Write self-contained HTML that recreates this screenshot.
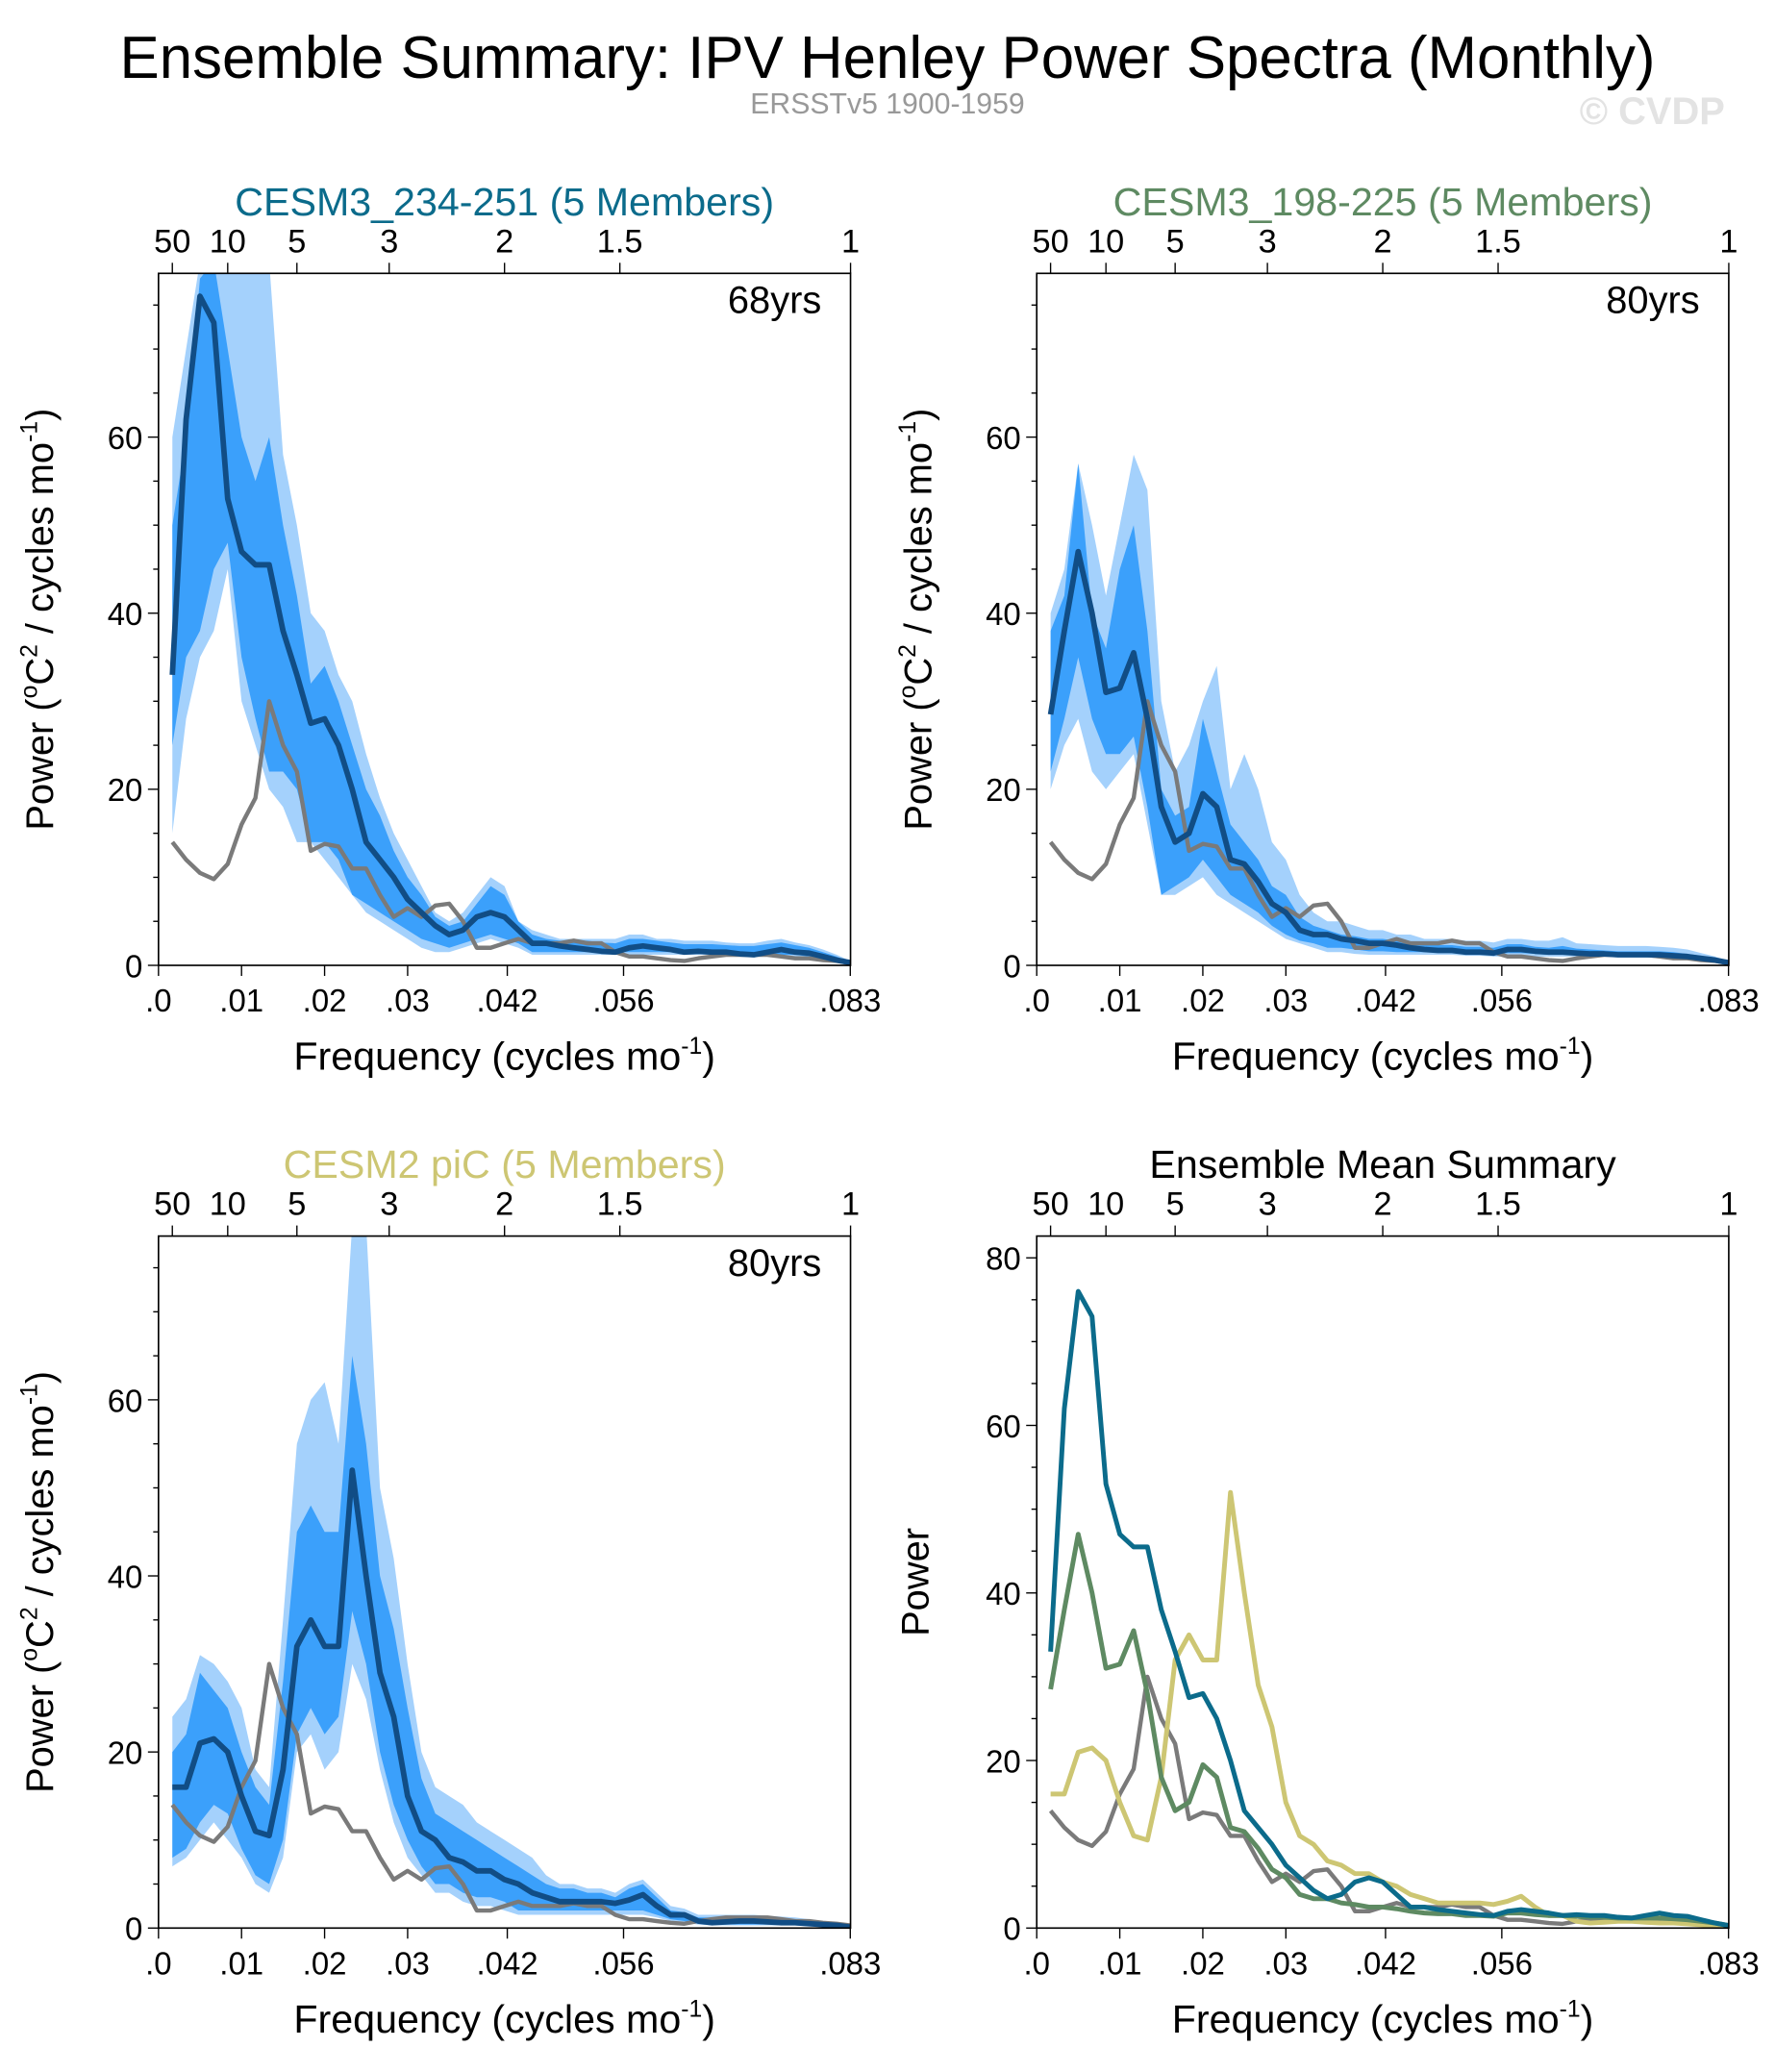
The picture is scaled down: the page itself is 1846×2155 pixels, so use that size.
<!DOCTYPE html>
<html><head><meta charset="utf-8">
<style>
html,body{margin:0;padding:0;background:#fff;}
svg{display:block;font-family:"Liberation Sans",Arial,sans-serif;}
</style></head>
<body>
<svg id="chart" width="1846" height="2155" viewBox="0 0 1344 1569" xmlns="http://www.w3.org/2000/svg">
<text x="672" y="59" font-size="45" text-anchor="middle" fill="#000">Ensemble Summary: IPV Henley Power Spectra (Monthly)</text>
<text x="672" y="86" font-size="22" text-anchor="middle" fill="#999">ERSSTv5 1900-1959</text>
<text x="1306" y="94" font-size="29" font-weight="bold" text-anchor="end" fill="#e3e3e3">© CVDP</text>
</svg>
<script>
const freqs=[0.00167,0.00333,0.005,0.00667,0.00833,0.01,0.01167,0.01333,0.015,0.01667,0.01833,0.02,0.02167,0.02333,0.025,0.02667,0.02833,0.03,0.03167,0.03333,0.035,0.03667,0.03833,0.04,0.04167,0.04333,0.045,0.04667,0.04833,0.05,0.05167,0.05333,0.055,0.05667,0.05833,0.06,0.06167,0.06333,0.065,0.06667,0.06833,0.07,0.07167,0.07333,0.075,0.07667,0.07833,0.08,0.08167,0.08333];
const obs=[14,12,10.5,9.8,11.5,16,19,30,25,22,13,13.8,13.5,11,11,8,5.5,6.5,5.5,6.8,7,5,2,2,2.5,3,2.5,2.5,2.5,2.8,2.5,2.5,1.5,1,1,0.8,0.6,0.5,0.8,1,1.2,1.2,1.2,1.2,1,0.8,0.8,0.6,0.5,0.3];
// Panel A: CESM3_234-251
const meanA=[33,62,76,73,53,47,45.5,45.5,38,33,27.5,28,25,20,14,12,10,7.5,6,4.5,3.5,4,5.5,6,5.5,4,2.5,2.5,2.2,2,1.8,1.6,1.5,2,2.2,2,1.8,1.5,1.6,1.5,1.5,1.3,1.2,1.5,1.8,1.5,1.4,1,0.6,0.3];
const loA=[15,28,35,38,45,30,25,20,18,14,14,12,10,8,6,5,4,3,2,1.5,1.5,2,2.5,3,2.5,2,1.2,1.2,1.2,1.2,1.2,1.2,1.2,1.2,1.2,1.2,1.2,1.2,1.2,1.2,1.2,1.2,1,1,1,1,0.8,0.6,0.4,0.2];
const hiA=[60,70,80,80,80,80,80,80,58,50,40,38,33,30,24,19,15,12,9,6,5,6,8,10,9,5,4,3.5,3,3,3,3,3,3.5,3.5,3,3,2.8,2.8,2.8,2.6,2.5,2.5,2.8,3,2.6,2.3,1.8,1.2,0.5];
const dloA=[25,35,38,45,48,35,28,22,22,20,14,14,12,8,7,6,5,4,3,2.5,2,2.5,3,3.5,3,2.5,1.5,1.5,1.5,1.5,1.5,1.5,1.5,1.5,1.5,1.5,1.5,1.3,1.3,1.3,1.3,1.2,1.2,1.2,1.2,1.2,1,0.8,0.5,0.3];
const dhiA=[50,60,78,80,70,60,55,60,50,42,32,34,30,25,20,17,13,10,8,5.5,4.5,5,7,9,8,5,3.5,3,2.8,2.8,2.8,2.6,2.5,3,3,2.8,2.6,2.4,2.4,2.4,2.3,2.2,2.2,2.4,2.6,2.3,2,1.5,1,0.4];
// Panel B: CESM3_198-225
const meanB=[28.5,38,47,40,31,31.5,35.5,28,18,14,15,19.5,18,12,11.5,9.5,7,6,4,3.5,3.5,3,2.8,2.5,2.5,2.3,2,1.8,1.7,1.7,1.5,1.5,1.4,1.8,1.8,1.6,1.5,1.5,1.4,1.3,1.3,1.2,1.2,1.2,1.2,1.1,1,0.8,0.6,0.3];
const loB=[20,25,28,22,20,22,24,16,8,8,9,10,8,7,6,5,4,3,2.5,2,1.5,1.5,1.3,1.2,1.2,1.2,1.2,1.2,1.2,1.2,1.1,1.1,1,1,1,1,1,1,1,1,1,0.9,0.9,0.9,0.8,0.8,0.7,0.5,0.3,0.2];
const hiB=[40,45,57,50,42,50,58,54,30,22,25,30,34,20,24,20,14,12,8,6,5,5,4.5,4,4,3.5,3.5,3,3,3,2.8,2.8,2.6,3,3,2.8,2.8,3.2,2.5,2.4,2.3,2.2,2.2,2.2,2.1,2,1.8,1.4,1,0.5];
const dloB=[22,28,35,28,24,24,26,18,8,9,10,12,10,8,7,6,4.5,3.5,2.8,2.5,2,2,1.8,1.6,1.6,1.5,1.5,1.5,1.5,1.4,1.3,1.3,1.2,1.4,1.4,1.3,1.2,1.2,1.2,1.1,1.1,1,1,1,1,0.9,0.8,0.6,0.4,0.3];
const dhiB=[38,42,57,40,36,45,50,38,20,17,18,28,22,16,14,12,9,8,5.5,4.5,4,3.5,3.3,3,3,2.8,2.6,2.4,2.3,2.3,2.1,2.1,2,2.4,2.4,2.1,2,2.2,1.9,1.8,1.7,1.6,1.6,1.6,1.6,1.5,1.3,1.1,0.8,0.4];
// Panel C: CESM2 piC
const meanC=[16,16,21,21.5,20,15,11,10.5,18,32,35,32,32,52,40,29,24,15,11,10,8,7.5,6.5,6.5,5.5,5,4,3.5,3,3,3,3,2.8,3.2,3.8,2.5,1.5,1.5,0.8,0.6,0.7,0.8,0.8,0.7,0.6,0.6,0.5,0.4,0.3,0.1];
const loC=[7,8,10,12,10,8,5,4,8,20,22,18,20,30,26,18,12,8,6,4,4,3,2.5,2.5,2,1.5,1.5,1.5,1.5,1.5,1.5,1.5,1.5,1.5,1.5,1.2,0.8,0.6,0.4,0.3,0.3,0.3,0.3,0.3,0.3,0.3,0.2,0.1,0.1,0];
const hiC=[24,26,31,30,28,25,18,16,35,55,60,62,55,80,80,50,42,30,20,16,15,14,12,11,10,9,8,6,5,5,4.5,4.5,4,5,5.5,4,2.5,2.2,1.5,1.5,1.5,1.5,1.5,1.4,1.3,1.2,1,0.8,0.6,0.3];
const dloC=[8,9,12,14,13,9,6,5,10,22,25,22,24,36,30,20,14,10,7,5,5,4,3.5,3.5,3,2,2,2,2,2,2,2,2,2,2,1.5,1,0.8,0.5,0.4,0.4,0.4,0.4,0.4,0.4,0.4,0.3,0.2,0.1,0];
const dhiC=[20,22,29,27,25,20,16,14,28,45,48,45,45,65,55,40,34,25,17,13,12,11,10,9,8,7,6,5,4.5,4.5,4,4,3.5,4.5,5,3.5,2,1.8,1.2,1.2,1.2,1.2,1.2,1.1,1,1,0.8,0.6,0.4,0.2];

const topPeriods=["50","10","5","3","2","1.5","1"];
const topFreqs=[1/600,1/120,1/60,1/36,1/24,1/18,1/12];
const botLabels=[".0",".01",".02",".03",".042",".056",".083"];
const botFreqs=[0,0.01,0.02,0.03,0.042,0.056,0.0833];

const NS="http://www.w3.org/2000/svg";
const svg=document.getElementById('chart');
function mk(tag,attrs,parent){const e=document.createElementNS(NS,tag);for(const k in attrs)e.setAttribute(k,attrs[k]);(parent||svg).appendChild(e);return e;}

let clipId=0;
function panel(p){
  const g=mk('g',{});
  
  
  const x0=p.x,y0=p.y,W=524,H=524,ymax=p.ymax;
  const xs=f=>x0+f/0.08333*W;
  const ys=v=>y0+H-v/ymax*H;
  const cid='clip'+(clipId++);
  const cp=mk('clipPath',{id:cid},g);mk('rect',{x:x0,y:y0,width:W,height:H},cp);
  const plot=mk('g',{'clip-path':'url(#'+cid+')'},g);
  
  
  function band(lo,hi,color,name){
    let d='';
    for(let i=0;i<freqs.length;i++)d+=(i?'L':'M')+xs(freqs[i]).toFixed(1)+','+ys(hi[i]).toFixed(1);
    for(let i=freqs.length-1;i>=0;i--)d+='L'+xs(freqs[i]).toFixed(1)+','+ys(lo[i]).toFixed(1);
    const e=mk('path',{d:d+'Z',fill:color,stroke:'none'},plot);
    
    
  }
  function line(vals,color,w,name){
    const pts=freqs.map((f,i)=>xs(f).toFixed(1)+','+ys(vals[i]).toFixed(1)).join(' ');
    const e=mk('polyline',{points:pts,fill:'none',stroke:color,'stroke-width':w,'stroke-linejoin':'round'},plot);
    
    
  }
  if(p.bands){
    band(p.bands[0],p.bands[1],'#a4d1fc','outer-spread-band');
    band(p.bands[2],p.bands[3],'#3ba0fb','inner-spread-band');
    line(obs,'#7a7a7a',3.2,'observed-line');
    line(p.mean,'#114d85',4.2,'ensemble-mean-line');
  } else {
    line(obs,'#7a7a7a',3.2,'observed-line');
    line(meanC,'#cdc673',3.6,'cesm2-pic-line');
    line(meanB,'#5e8a62',3.6,'cesm3-198-225-line');
    line(meanA,'#0b6b8b',3.6,'cesm3-234-251-line');
  }
  const fr=mk('rect',{x:x0,y:y0,width:W,height:H,fill:'none',stroke:'#000','stroke-width':1.2},g);
  
  
  for(let v=0;v<=ymax;v+=5){
    const major=v%20===0;
    mk('line',{x1:x0,x2:x0-(major?8:4),y1:ys(v),y2:ys(v),stroke:'#000','stroke-width':1},g);
    if(major){const t=mk('text',{x:x0-12,y:ys(v)+9,'font-size':24,'text-anchor':'end'},g);t.textContent=v;
      }
  }
  botFreqs.forEach((f,i)=>{
    mk('line',{x1:xs(f),x2:xs(f),y1:y0+H,y2:y0+H+8,stroke:'#000','stroke-width':1},g);
    const t=mk('text',{x:xs(f),y:y0+H+35,'font-size':24,'text-anchor':'middle'},g);t.textContent=botLabels[i];
    
  });
  topFreqs.forEach((f,i)=>{
    mk('line',{x1:xs(f),x2:xs(f),y1:y0,y2:y0-8,stroke:'#000','stroke-width':1},g);
    const t=mk('text',{x:xs(f),y:y0-16,'font-size':25,'text-anchor':'middle'},g);t.textContent=topPeriods[i];
    
  });
  const tt=mk('text',{x:x0+W/2,y:y0-44,'font-size':30,'text-anchor':'middle',fill:p.tcolor},g);tt.textContent=p.title;
  
  if(p.yrs){const t=mk('text',{x:x0+W-22,y:y0+30,'font-size':29,'text-anchor':'end'},g);t.textContent=p.yrs;
    }
  const xl=mk('text',{x:x0+W/2,y:y0+H+79,'font-size':30,'text-anchor':'middle'},g);
  
  xl.innerHTML='Frequency (cycles mo<tspan dy="-12" font-size="18">-1</tspan><tspan dy="12">)</tspan>';
  const yl=mk('text',{x:0,y:0,'font-size':29,'text-anchor':'middle',transform:'translate('+(x0-80)+','+(y0+H/2)+') rotate(-90)'},g);
  
  if(p.bands) yl.innerHTML='Power (<tspan dy="-12" font-size="18">o</tspan><tspan dy="12">C</tspan><tspan dy="-12" font-size="18">2</tspan><tspan dy="12"> / cycles mo</tspan><tspan dy="-12" font-size="18">-1</tspan><tspan dy="12">)</tspan>';
  else {yl.textContent='Power';yl.setAttribute('transform','translate('+(x0-82)+','+(y0+H/2)+') rotate(-90)');}
}
panel({name:'panel-cesm3-234-251',x:120,y:207,ymax:78.6,title:'CESM3_234-251 (5 Members)',tcolor:'#0b6b8b',yrs:'68yrs',mean:meanA,bands:[loA,hiA,dloA,dhiA]});
panel({name:'panel-cesm3-198-225',x:785,y:207,ymax:78.6,title:'CESM3_198-225 (5 Members)',tcolor:'#5e8a62',yrs:'80yrs',mean:meanB,bands:[loB,hiB,dloB,dhiB]});
panel({name:'panel-cesm2-pic',x:120,y:936,ymax:78.6,title:'CESM2 piC (5 Members)',tcolor:'#cdc673',yrs:'80yrs',mean:meanC,bands:[loC,hiC,dloC,dhiC]});
panel({name:'panel-ensemble-mean-summary',x:785,y:936,ymax:82.6,title:'Ensemble Mean Summary',tcolor:'#000'});
</script>
</body></html>
